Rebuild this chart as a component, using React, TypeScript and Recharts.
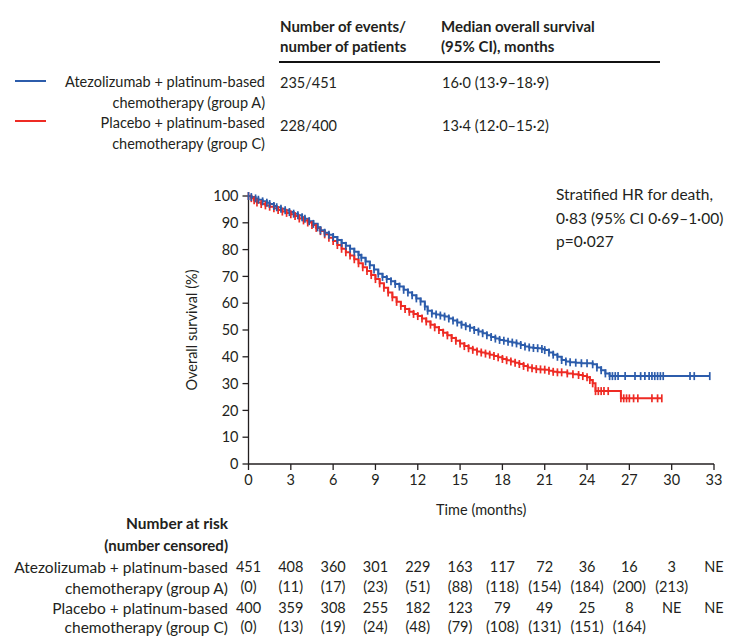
import React from "react";
import { ComposedChart, Line, XAxis, YAxis } from "recharts";

const BLUE = "#2c5cab";
const RED = "#ee2b24";
const INK = "#231f20";
const FONT = "Lato, 'Open Sans', sans-serif";

const MONTH_TICKS = [0, 3, 6, 9, 12, 15, 18, 21, 24, 27, 30, 33];
const SURVIVAL_TICKS = [0, 10, 20, 30, 40, 50, 60, 70, 80, 90, 100];

// Kaplan-Meier curves; each point is also a censor mark
const atezoMonths = [
  0, 0.2, 0.5, 0.7, 1.0, 1.3, 1.5, 1.8, 2.0, 2.3, 2.6, 2.9, 3.2, 3.5, 3.8, 4.0, 4.3, 4.6, 4.9, 5.1,
  5.4, 5.7, 6.0, 6.3, 6.6, 6.9, 7.2, 7.5, 7.8, 8.0, 8.3, 8.6, 8.9, 9.2, 9.5, 9.8, 10.1, 10.4, 10.7,
  11.0, 11.3, 11.6, 11.9, 12.2, 12.5, 12.7, 13.0, 13.3, 13.6, 13.9, 14.2, 14.5, 14.8, 15.1, 15.4,
  15.7, 16.0, 16.3, 16.6, 16.9, 17.2, 17.5, 17.8, 18.1, 18.4, 18.7, 19.0, 19.3, 19.6, 19.9, 20.2,
  20.5, 20.8, 21.0, 21.3, 21.6, 21.9, 22.2, 22.5, 22.8, 23.2, 23.6, 24.0, 24.4, 24.7, 25.0, 25.3,
  25.6, 25.8, 26.0, 26.2, 26.7, 27.4, 27.8, 28.1, 28.4, 28.6, 28.8, 29.0, 29.2, 29.4, 31.3, 31.6, 32.7,
];
const atezoSurvival = [
  100, 99.6, 99.1, 98.6, 98.0, 97.5, 97.0, 96.3, 95.8, 95.2, 94.7, 94.0, 93.4, 92.8, 92.1, 91.5, 90.6,
  89.6, 88.3, 87.2, 86.3, 85.5, 84.7, 83.6, 82.5, 81.4, 80.3, 79.2, 78.0, 77.0, 75.6, 74.2, 72.6, 71.0,
  69.8, 69.0, 68.2, 67.2, 66.2, 65.0, 64.0, 63.0, 61.8, 60.6, 58.8, 57.2, 56.2, 55.8, 55.4, 55.0, 54.3,
  53.5, 52.8, 52.0, 51.4, 50.8, 50.0, 49.4, 48.8, 48.0, 47.4, 46.8, 46.3, 46.0, 45.6, 45.3, 45.0, 44.4,
  43.8, 43.5, 43.3, 43.2, 42.9, 42.5, 41.6, 40.8, 40.0, 38.8, 38.2, 38.0, 37.8, 37.6, 37.6, 37.2, 36.0,
  35.0, 33.8, 32.8, 32.8, 32.8, 32.8, 32.8, 32.8, 32.8, 32.8, 32.8, 32.8, 32.8, 32.8, 32.8, 32.8,
  32.8, 32.8, 32.8,
];

const placeboMonths = [
  0, 0.2, 0.4, 0.6, 0.9, 1.2, 1.5, 1.8, 2.1, 2.4, 2.7, 3.0, 3.3, 3.6, 3.9, 4.2, 4.5, 4.8, 5.1, 5.4,
  5.7, 6.0, 6.3, 6.6, 6.9, 7.2, 7.5, 7.8, 8.1, 8.4, 8.7, 9.0, 9.3, 9.6, 9.9, 10.2, 10.5, 10.8, 11.1,
  11.4, 11.7, 12.0, 12.3, 12.6, 12.9, 13.2, 13.5, 13.8, 14.1, 14.4, 14.7, 15.0, 15.3, 15.6, 15.9,
  16.2, 16.5, 16.8, 17.1, 17.4, 17.7, 18.0, 18.3, 18.6, 18.9, 19.2, 19.5, 19.8, 20.1, 20.4, 20.7,
  21.0, 21.3, 21.6, 21.9, 22.2, 22.6, 23.0, 23.4, 23.7, 24.0, 24.2, 24.4, 24.6, 24.8, 25.0, 25.2,
  25.5, 26.4, 26.6, 26.8, 27.0, 27.3, 27.6, 28.6, 29.0, 29.3,
];
const placeboSurvival = [
  100, 99.2, 98.4, 97.6, 97.0, 96.5, 96.0, 95.4, 94.8, 94.2, 93.7, 93.2, 92.5, 91.6, 90.9, 90.1, 89.2,
  88.1, 86.9, 85.7, 84.4, 83.2, 81.7, 80.3, 79.0, 77.8, 76.4, 74.9, 73.4, 72.0, 70.5, 69.0, 67.4, 65.8,
  64.0, 62.2, 60.5, 59.0, 57.8, 56.8, 56.0, 55.2, 54.3, 53.2, 52.0, 51.0, 50.0, 49.0, 48.0, 47.0, 46.0,
  45.0, 44.0, 43.2, 42.6, 42.0, 41.6, 41.2, 40.8, 40.3, 39.8, 39.2, 38.7, 38.2, 37.8, 37.3, 36.6, 36.0,
  35.7, 35.4, 35.3, 35.2, 34.8, 34.4, 34.2, 34.2, 33.8, 33.5, 33.2, 32.8, 32.4, 31.3, 30.1, 27.2, 27.2,
  27.2, 27.2, 27.2, 24.5, 24.5, 24.5, 24.5, 24.5, 24.5, 24.5, 24.5, 24.5,
];

// number at risk table, one entry per month tick
const atRiskAtezo = ["451", "408", "360", "301", "229", "163", "117", "72", "36", "16", "3", "NE"];
const censoredAtezo = ["(0)", "(11)", "(17)", "(23)", "(51)", "(88)", "(118)", "(154)", "(184)", "(200)", "(213)", ""];
const atRiskPlacebo = ["400", "359", "308", "255", "182", "123", "79", "49", "25", "8", "NE", "NE"];
const censoredPlacebo = ["(0)", "(13)", "(19)", "(24)", "(48)", "(79)", "(108)", "(131)", "(151)", "(164)", "", ""];

const riskRows = [atRiskAtezo, censoredAtezo, atRiskPlacebo, censoredPlacebo];
const riskRowIds = ["b", "c", "d", "e"];
const riskRowHeights = [20, 21, 19, 16];

const atezoData = atezoMonths.map((m, i) => ({ month: m, survival: atezoSurvival[i] }));
const placeboData = placeboMonths.map((m, i) => ({ month: m, survival: placeboSurvival[i] }));

function censorMark(color: string) {
  return (props: any) => {
    const { cx, cy, index } = props;
    if (cx == null || cy == null) return <g key={`c-${index}`} />;
    return (
      <line
        key={`c-${index}`}
        x1={cx}
        x2={cx}
        y1={cy - 4}
        y2={cy + 4}
        stroke={color}
        strokeWidth={1.7}
      />
    );
  };
}

function rowFormatter(row: string[]) {
  return (value: number) => row[MONTH_TICKS.indexOf(value)] ?? "";
}

type TxtProps = {
  x: number;
  y: number;
  children: React.ReactNode;
  anchor?: "start" | "end" | "middle";
  bold?: boolean;
  size?: number;
};

function Txt({ x, y, children, anchor = "start", bold = false, size = 14.5 }: TxtProps) {
  const lh = Math.round(size * 1.2);
  const style: React.CSSProperties = {
    position: "absolute",
    top: y - lh / 2,
    lineHeight: `${lh}px`,
    fontSize: size,
    fontWeight: bold ? 700 : 400,
    whiteSpace: "nowrap",
    color: INK,
  };
  if (anchor === "end") style.right = 730 - x;
  else if (anchor === "middle") {
    style.left = x;
    style.transform = "translateX(-50%)";
  } else style.left = x;
  return <div style={style}>{children}</div>;
}

const tickStyle = { fill: INK, fontSize: 14.5, fontFamily: FONT };

export default function App() {
  return (
    <div
      style={{
        position: "relative",
        width: 730,
        height: 636,
        background: "#fff",
        fontFamily: FONT,
        overflow: "hidden",
      }}
    >
      <style>{"html,body{margin:0;padding:0;overflow:hidden;}"}</style>
      <div style={{ position: "absolute", left: 0, top: 0 }}>
        <ComposedChart
          width={730}
          height={636}
          margin={{ top: 196, right: 16, bottom: 0, left: 135.5 }}
        >
          <XAxis
            xAxisId="a"
            type="number"
            dataKey="month"
            domain={[0, 33]}
            ticks={MONTH_TICKS}
            interval={0}
            height={96}
            tickSize={6}
            tickMargin={5}
            stroke={INK}
            strokeWidth={1.3}
            tick={tickStyle}
            label={{
              value: "Time (months)",
              position: "insideTop",
              offset: 41,
              style: { fill: INK, fontSize: 14.5, fontFamily: FONT },
            }}
          />
          {riskRows.map((row, i) => (
            <XAxis
              key={riskRowIds[i]}
              xAxisId={riskRowIds[i]}
              type="number"
              dataKey="month"
              domain={[0, 33]}
              allowDataOverflow
              ticks={MONTH_TICKS}
              interval={0}
              height={riskRowHeights[i]}
              axisLine={false}
              tickLine={false}
              tickSize={0}
              tickMargin={2}
              tick={tickStyle}
              tickFormatter={rowFormatter(row)}
            />
          ))}
          <YAxis
            type="number"
            domain={[0, 100]}
            ticks={SURVIVAL_TICKS}
            interval={0}
            width={113}
            tickSize={6}
            tickMargin={4}
            stroke={INK}
            strokeWidth={1.3}
            tick={tickStyle}
            label={{
              value: "Overall survival (%)",
              angle: -90,
              position: "center",
              style: { fill: INK, fontSize: 14.5, fontFamily: FONT },
            }}
          />
          {/* invisible series so each at-risk row axis has data behind it */}
          {riskRowIds.map((id) => (
            <Line
              key={`hidden-${id}`}
              xAxisId={id}
              data={atezoData}
              dataKey="survival"
              stroke="none"
              dot={false}
              activeDot={false}
              legendType="none"
              isAnimationActive={false}
            />
          ))}
          <Line
            xAxisId="a"
            data={placeboData}
            dataKey="survival"
            type="stepAfter"
            stroke={RED}
            strokeWidth={2}
            dot={censorMark(RED)}
            activeDot={false}
            isAnimationActive={false}
          />
          <Line
            xAxisId="a"
            data={atezoData}
            dataKey="survival"
            type="stepAfter"
            stroke={BLUE}
            strokeWidth={2}
            dot={censorMark(BLUE)}
            activeDot={false}
            isAnimationActive={false}
          />
        </ComposedChart>
      </div>

      {/* summary table above the plot */}
      <Txt x={280} y={26} bold size={15}>Number of events/</Txt>
      <Txt x={280} y={46} bold size={15}>number of patients</Txt>
      <Txt x={441} y={26} bold size={15}>Median overall survival</Txt>
      <Txt x={441} y={46} bold size={15}>(95% CI), months</Txt>
      <div style={{ position: "absolute", left: 279, top: 61, width: 381, height: 2, background: "#111" }} />

      <div style={{ position: "absolute", left: 15, top: 80, width: 31, height: 2, background: BLUE }} />
      <div style={{ position: "absolute", left: 15, top: 120, width: 31, height: 2, background: RED }} />
      <Txt x={265} y={81} anchor="end">Atezolizumab + platinum-based</Txt>
      <Txt x={265} y={102} anchor="end">chemotherapy (group A)</Txt>
      <Txt x={265} y={122} anchor="end">Placebo + platinum-based</Txt>
      <Txt x={265} y={143} anchor="end">chemotherapy (group C)</Txt>
      <Txt x={280} y={82}>235/451</Txt>
      <Txt x={442} y={82}>16·0 (13·9–18·9)</Txt>
      <Txt x={280} y={125}>228/400</Txt>
      <Txt x={442} y={125}>13·4 (12·0–15·2)</Txt>

      <Txt x={556} y={194} size={15.5}>Stratified HR for death,</Txt>
      <Txt x={556} y={218} size={15.5}>0·83 (95% CI 0·69–1·00)</Txt>
      <Txt x={556} y={241} size={15.5}>p=0·027</Txt>

      {/* number at risk row labels */}
      <Txt x={228} y={523} anchor="end" bold size={15.5}>Number at risk</Txt>
      <Txt x={228} y={545} anchor="end" bold size={15}>(number censored)</Txt>
      <Txt x={228} y={567} anchor="end" size={15.5}>Atezolizumab + platinum-based</Txt>
      <Txt x={228} y={588} anchor="end" size={15.5}>chemotherapy (group A)</Txt>
      <Txt x={228} y={608} anchor="end" size={15.5}>Placebo + platinum-based</Txt>
      <Txt x={228} y={627} anchor="end" size={15.5}>chemotherapy (group C)</Txt>
    </div>
  );
}
